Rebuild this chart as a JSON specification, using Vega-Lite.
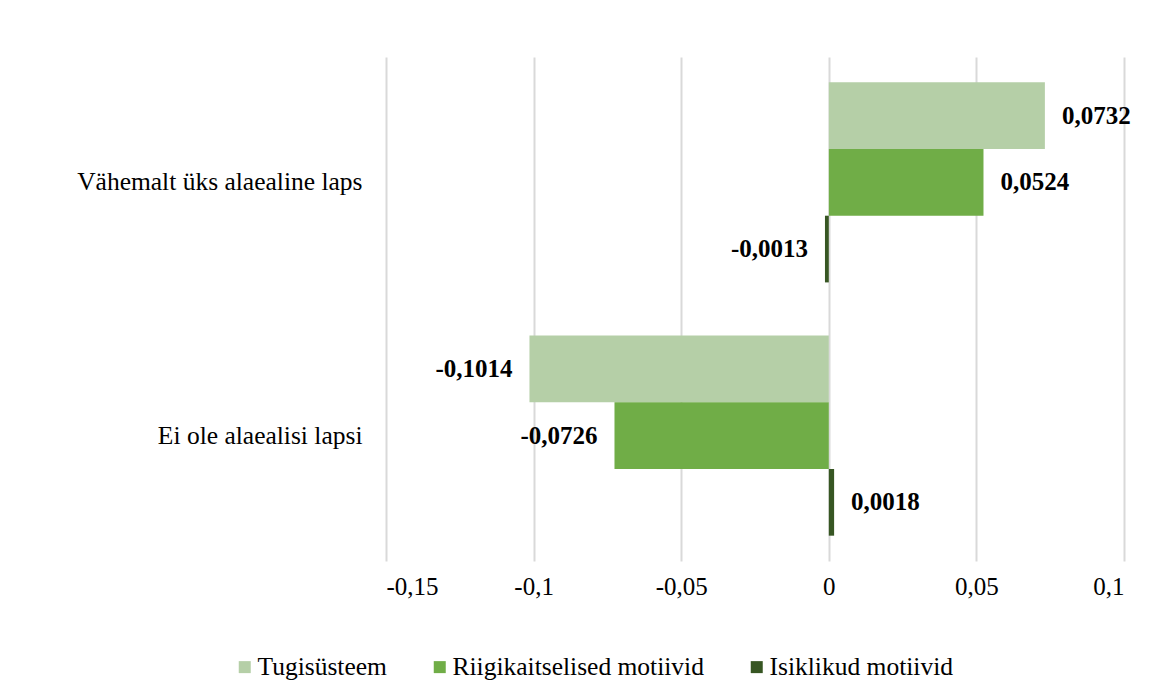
{
  "$schema": "https://vega.github.io/schema/vega-lite/v6.json",
  "width": 738,
  "height": 504,
  "autosize": {"type": "none"},
  "padding": {"left": 386, "top": 57, "right": 37, "bottom": 134},
  "background": "white",
  "config": {
    "locale": {"number": {"decimal": ",", "thousands": " ", "grouping": [3], "currency": ["", ""], "minus": "-"}},
    "view": {"stroke": null},
    "font": "Liberation Serif"
  },
  "data": {
    "values": [
      {"group": "Vähemalt üks alaealine laps", "series": "Tugisüsteem", "value": 0.0732},
      {"group": "Vähemalt üks alaealine laps", "series": "Riigikaitselised motiivid", "value": 0.0524},
      {"group": "Vähemalt üks alaealine laps", "series": "Isiklikud motiivid", "value": -0.0013},
      {"group": "Ei ole alaealisi lapsi", "series": "Tugisüsteem", "value": -0.1014},
      {"group": "Ei ole alaealisi lapsi", "series": "Riigikaitselised motiivid", "value": -0.0726},
      {"group": "Ei ole alaealisi lapsi", "series": "Isiklikud motiivid", "value": 0.0018}
    ]
  },
  "encoding": {
    "y": {
      "field": "group",
      "type": "nominal",
      "sort": ["Vähemalt üks alaealine laps", "Ei ole alaealisi lapsi"],
      "scale": {"paddingInner": 0.21, "paddingOuter": 0.1},
      "axis": {
        "title": null,
        "domain": false,
        "ticks": false,
        "grid": false,
        "labelPadding": 24,
        "labelFont": "Liberation Serif",
        "labelFontSize": 25.5,
        "labelColor": "#000000",
        "labelLimit": 0
      }
    },
    "yOffset": {
      "field": "series",
      "type": "nominal",
      "sort": ["Tugisüsteem", "Riigikaitselised motiivid", "Isiklikud motiivid"],
      "scale": {"paddingInner": 0, "paddingOuter": 0}
    },
    "x": {
      "field": "value",
      "type": "quantitative",
      "scale": {"domain": [-0.15, 0.1], "nice": false, "zero": false},
      "axis": {
        "title": null,
        "values": [-0.15, -0.1, -0.05, 0, 0.05, 0.1],
        "format": ".2~f",
        "domain": false,
        "ticks": false,
        "grid": true,
        "gridColor": "#d9d9d9",
        "gridWidth": 2,
        "labelPadding": 13,
        "labelFont": "Liberation Serif",
        "labelFontSize": 25,
        "labelColor": "#000000"
      }
    }
  },
  "layer": [
    {
      "mark": {"type": "bar"},
      "encoding": {
        "color": {
          "field": "series",
          "type": "nominal",
          "sort": ["Tugisüsteem", "Riigikaitselised motiivid", "Isiklikud motiivid"],
          "scale": {
            "domain": ["Tugisüsteem", "Riigikaitselised motiivid", "Isiklikud motiivid"],
            "range": ["#b5cfa7", "#70ad47", "#375623"]
          },
          "legend": {
            "orient": "none",
            "legendX": -154,
            "legendY": 597,
            "direction": "horizontal",
            "title": null,
            "symbolType": "square",
            "symbolSize": 144,
            "symbolStrokeWidth": 0,
            "labelFont": "Liberation Serif",
            "labelFontSize": 25.5,
            "labelColor": "#000000",
            "labelOffset": 0,
            "columnPadding": 40,
            "padding": 0,
            "labelLimit": 0
          }
        }
      }
    },
    {
      "transform": [{"filter": "datum.value >= 0"}],
      "mark": {"type": "text", "align": "left", "baseline": "middle", "dx": 17, "fontWeight": "bold", "fontSize": 25, "font": "Liberation Serif", "color": "#000000"},
      "encoding": {"text": {"field": "value", "type": "quantitative", "format": ".4f"}}
    },
    {
      "transform": [{"filter": "datum.value < 0"}],
      "mark": {"type": "text", "align": "right", "baseline": "middle", "dx": -17, "fontWeight": "bold", "fontSize": 25, "font": "Liberation Serif", "color": "#000000"},
      "encoding": {"text": {"field": "value", "type": "quantitative", "format": ".4f"}}
    }
  ]
}
